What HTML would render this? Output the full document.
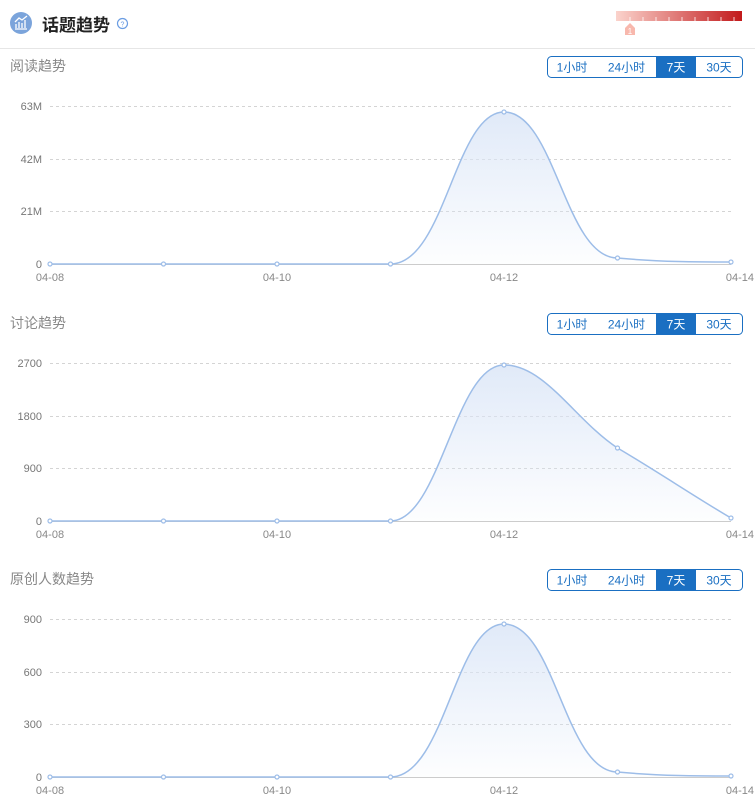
<!DOCTYPE html>
<html><head><meta charset="utf-8"><style>
body{margin:0;width:755px;height:806px;background:#fff;overflow:hidden;font-family:"Liberation Sans","Noto Sans CJK SC",sans-serif}
svg text{font-family:"Liberation Sans","Noto Sans CJK SC",sans-serif}
</style></head><body>
<svg width="755" height="806" xmlns="http://www.w3.org/2000/svg">
<defs>
<linearGradient id="g" x1="0" y1="0" x2="0" y2="1"><stop offset="0" stop-color="#dbe6f7" stop-opacity="0.85"/><stop offset="1" stop-color="#dbe6f7" stop-opacity="0.05"/></linearGradient>
<linearGradient id="r" x1="0" y1="0" x2="1" y2="0"><stop offset="0" stop-color="#fbd3cc"/><stop offset="1" stop-color="#c2191b"/></linearGradient>
</defs>
<!-- header -->
<circle cx="21" cy="23" r="11" fill="#7ba4db"/>
<path d="M15 29 L27 29 M16 28 V24 M19 28 V22 M22 28 V23 M25 28 V20 M15 22 L19 18 L22 20 L27 16" stroke="#fff" stroke-width="1.3" fill="none"/>
<text x="42" y="31" font-size="17" font-weight="bold" fill="#222">话题趋势</text>
<circle cx="122.5" cy="23.5" r="5" fill="none" stroke="#6b9de3" stroke-width="1.2"/>
<text x="122.5" y="26.5" font-size="7" fill="#6b9de3" text-anchor="middle">?</text>
<rect x="616" y="11" width="126" height="10" fill="url(#r)"/>
<g stroke="#fff" stroke-width="1" opacity="0.8"><path d="M630 17V21M643 17V21M656 17V21M669 17V21M682 17V21M695 17V21M708 17V21M721 17V21M734 17V21"/></g>
<path d="M625 28 L630 23 L635 28 V35 H625 Z" fill="#f8b8ad"/>
<text x="630" y="34" font-size="8" fill="#fff" text-anchor="middle">1</text>
<line x1="0" y1="48.5" x2="755" y2="48.5" stroke="#e6e6e6"/>

<g id="sec">
</g>
<!-- section template rendered three times -->
<g font-size="14" fill="#888">
<text x="10" y="71">阅读趋势</text>
<text x="10" y="328">讨论趋势</text>
<text x="10" y="584">原创人数趋势</text>
</g>
<g font-size="12">
<g transform="translate(0,0)">
<rect x="547.5" y="56.5" width="195" height="21" rx="4" fill="#fff" stroke="#1a6fc2"/>
<rect x="656" y="56" width="40" height="22" fill="#1a6fc2"/>
<text x="572" y="71.5" fill="#1a6fc2" text-anchor="middle">1小时</text><text x="626.5" y="71.5" fill="#1a6fc2" text-anchor="middle">24小时</text><text x="676" y="71.5" fill="#fff" text-anchor="middle">7天</text><text x="719" y="71.5" fill="#1a6fc2" text-anchor="middle">30天</text>
</g>
<g transform="translate(0,257)">
<rect x="547.5" y="56.5" width="195" height="21" rx="4" fill="#fff" stroke="#1a6fc2"/>
<rect x="656" y="56" width="40" height="22" fill="#1a6fc2"/>
<text x="572" y="71.5" fill="#1a6fc2" text-anchor="middle">1小时</text><text x="626.5" y="71.5" fill="#1a6fc2" text-anchor="middle">24小时</text><text x="676" y="71.5" fill="#fff" text-anchor="middle">7天</text><text x="719" y="71.5" fill="#1a6fc2" text-anchor="middle">30天</text>
</g>
<g transform="translate(0,513)">
<rect x="547.5" y="56.5" width="195" height="21" rx="4" fill="#fff" stroke="#1a6fc2"/>
<rect x="656" y="56" width="40" height="22" fill="#1a6fc2"/>
<text x="572" y="71.5" fill="#1a6fc2" text-anchor="middle">1小时</text><text x="626.5" y="71.5" fill="#1a6fc2" text-anchor="middle">24小时</text><text x="676" y="71.5" fill="#fff" text-anchor="middle">7天</text><text x="719" y="71.5" fill="#1a6fc2" text-anchor="middle">30天</text>
</g>
</g>

<!-- grids -->
<g stroke="#d4d4d4" stroke-dasharray="3,3">
<path d="M50 106.5H731M50 159.5H731M50 211.5H731"/>
<path d="M50 363.5H731M50 416.5H731M50 468.5H731"/>
<path d="M50 619.5H731M50 672.5H731M50 724.5H731"/>
</g>
<g stroke="#ccc"><path d="M50 264.5H731M50 521.5H731M50 777.5H731"/></g>
<g font-size="11" fill="#777" text-anchor="end">
<text x="42" y="110">63M</text><text x="42" y="163">42M</text><text x="42" y="215">21M</text><text x="42" y="268">0</text>
<text x="42" y="367">2700</text><text x="42" y="420">1800</text><text x="42" y="472">900</text><text x="42" y="525">0</text>
<text x="42" y="623">900</text><text x="42" y="676">600</text><text x="42" y="728">300</text><text x="42" y="781">0</text>
</g>
<g font-size="11" fill="#888" text-anchor="middle">
<text x="50" y="281">04-08</text><text x="277" y="281">04-10</text><text x="504" y="281">04-12</text><text x="731" y="281" text-anchor="end" dx="23">04-14</text>
<text x="50" y="538">04-08</text><text x="277" y="538">04-10</text><text x="504" y="538">04-12</text><text x="754" y="538" text-anchor="end">04-14</text>
<text x="50" y="794">04-08</text><text x="277" y="794">04-10</text><text x="504" y="794">04-12</text><text x="754" y="794" text-anchor="end">04-14</text>
</g>

<!-- series -->
<g stroke="#9dbde8" stroke-width="1.5">
<path d="M50 264 L390.5 264 C445 264 455 112 504 112 C555 112 565 258 617.5 258 C660 262 700 262 731 262 L731 264 Z" fill="url(#g)" stroke="none"/>
<path d="M50 264 L390.5 264 C445 264 455 112 504 112 C555 112 565 258 617.5 258 C660 262 700 262 731 262" fill="none"/>
<path d="M50 521 L390.5 521 C440 521 455 365 504 365 C545 365 575 420 617.5 448 C655 470 700 500 731 518 L731 521 Z" fill="url(#g)" stroke="none"/>
<path d="M50 521 L390.5 521 C440 521 455 365 504 365 C545 365 575 420 617.5 448 C655 470 700 500 731 518" fill="none"/>
<path d="M50 777 L390.5 777 C445 777 455 624 504 624 C555 624 565 772 617.5 772 C660 776 700 776 731 776 L731 777 Z" fill="url(#g)" stroke="none"/>
<path d="M50 777 L390.5 777 C445 777 455 624 504 624 C555 624 565 772 617.5 772 C660 776 700 776 731 776" fill="none"/>
</g>
<g fill="#fff" stroke="#9dbde8" stroke-width="1.2">
<circle cx="50" cy="264" r="2"/><circle cx="163.5" cy="264" r="2"/><circle cx="277" cy="264" r="2"/><circle cx="390.5" cy="264" r="2"/><circle cx="504" cy="112" r="2"/><circle cx="617.5" cy="258" r="2"/><circle cx="731" cy="262" r="2"/>
<circle cx="50" cy="521" r="2"/><circle cx="163.5" cy="521" r="2"/><circle cx="277" cy="521" r="2"/><circle cx="390.5" cy="521" r="2"/><circle cx="504" cy="365" r="2"/><circle cx="617.5" cy="448" r="2"/><circle cx="731" cy="518" r="2"/>
<circle cx="50" cy="777" r="2"/><circle cx="163.5" cy="777" r="2"/><circle cx="277" cy="777" r="2"/><circle cx="390.5" cy="777" r="2"/><circle cx="504" cy="624" r="2"/><circle cx="617.5" cy="772" r="2"/><circle cx="731" cy="776" r="2"/>
</g>
</svg>
</body></html>
